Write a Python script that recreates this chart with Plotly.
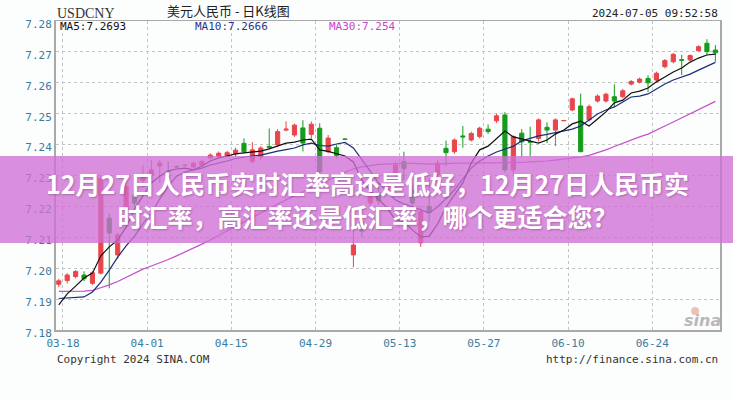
import plotly.graph_objects as go

# ---------------- data ----------------
tick_labels = ["03-18", "04-01", "04-15", "04-29", "05-13", "05-27", "06-10", "06-24"]
y_ticks = [7.18, 7.19, 7.20, 7.21, 7.22, 7.23, 7.24, 7.25, 7.26, 7.27, 7.28]

opens = [7.1948, 7.1960, 7.1973, 7.1978, 7.1951, 7.1984, 7.2162, 7.2043, 7.2188, 7.2237,
         7.2285, 7.2302, 7.2331, 7.2313, 7.2329, 7.2332, 7.2328, 7.2334, 7.2357, 7.2361,
         7.2363, 7.2370, 7.2404, 7.2345, 7.2360, 7.2394, 7.2399, 7.2447, 7.2431, 7.2454,
         7.2433, 7.2453, 7.2377, 7.2390, 7.2418, 7.2043, 7.2150, 7.2211, 7.2244, 7.2250,
         7.2302, 7.2345, 7.2253, 7.2082, 7.2200, 7.2302, 7.2388, 7.2377, 7.2428, 7.2415,
         7.2426, 7.2450, 7.2477, 7.2496, 7.2318, 7.2437, 7.2410, 7.2420, 7.2456, 7.2447,
         7.2477, 7.2512, 7.2525, 7.2480, 7.2541, 7.2541, 7.2555, 7.2555, 7.2596, 7.2602,
         7.2614, 7.2609, 7.2652, 7.2668, 7.2675, 7.2674, 7.2704, 7.2728, 7.2706]
highs = [7.1966, 7.1984, 7.1994, 7.1990, 7.1991, 7.2300, 7.2178, 7.2115, 7.2280, 7.2280,
         7.2334, 7.2350, 7.2350, 7.2345, 7.2333, 7.2336, 7.2345, 7.2350, 7.2372, 7.2378,
         7.2380, 7.2390, 7.2420, 7.2408, 7.2395, 7.2452, 7.2450, 7.2475, 7.2468, 7.2479,
         7.2475, 7.2469, 7.2431, 7.2400, 7.2420, 7.2140, 7.2200, 7.2250, 7.2275, 7.2290,
         7.2345, 7.2377, 7.2270, 7.2200, 7.2290, 7.2350, 7.2413, 7.2420, 7.2460, 7.2442,
         7.2458, 7.2465, 7.2500, 7.2505, 7.2430, 7.2450, 7.2458, 7.2485, 7.2472, 7.2485,
         7.2480, 7.2552, 7.2565, 7.2530, 7.2562, 7.2568, 7.2595, 7.2580, 7.2609, 7.2617,
         7.2624, 7.2636, 7.2677, 7.2697, 7.2690, 7.2692, 7.2721, 7.2741, 7.2722]
lows = [7.1939, 7.1951, 7.1967, 7.1958, 7.1946, 7.1980, 7.1935, 7.2030, 7.2172, 7.2199,
        7.2263, 7.2276, 7.2276, 7.2305, 7.2324, 7.2329, 7.2322, 7.2330, 7.2352, 7.2355,
        7.2358, 7.2360, 7.2372, 7.2339, 7.2350, 7.2385, 7.2393, 7.2443, 7.2425, 7.2378,
        7.2421, 7.2300, 7.2372, 7.2355, 7.2416, 7.2003, 7.2100, 7.2200, 7.2205, 7.2240,
        7.2295, 7.2285, 7.2200, 7.2069, 7.2150, 7.2290, 7.2330, 7.2370, 7.2390, 7.2410,
        7.2420, 7.2435, 7.2470, 7.2310, 7.2300, 7.2360, 7.2361, 7.2410, 7.2405, 7.2395,
        7.2476, 7.2508, 7.2377, 7.2475, 7.2536, 7.2536, 7.2520, 7.2550, 7.2591, 7.2598,
        7.2570, 7.2604, 7.2647, 7.2663, 7.2625, 7.2670, 7.2700, 7.2690, 7.2668]
closes = [7.1959, 7.1978, 7.1989, 7.1966, 7.1985, 7.2291, 7.2114, 7.2107, 7.2264, 7.2211,
          7.2302, 7.2318, 7.2340, 7.2312, 7.2328, 7.2333, 7.2340, 7.2345, 7.2366, 7.2372,
          7.2374, 7.2382, 7.2377, 7.2383, 7.2389, 7.2391, 7.2442, 7.2450, 7.2463, 7.2405,
          7.2466, 7.2312, 7.2421, 7.2365, 7.2417, 7.2075, 7.2120, 7.2231, 7.2218, 7.2270,
          7.2334, 7.2323, 7.2211, 7.2183, 7.2180, 7.2340, 7.2374, 7.2415, 7.2425, 7.2436,
          7.2453, 7.2442, 7.2493, 7.2318, 7.2426, 7.2409, 7.2408, 7.2480, 7.2447, 7.2480,
          7.2478, 7.2548, 7.2377, 7.2523, 7.2557, 7.2563, 7.2541, 7.2574, 7.2604, 7.2612,
          7.2600, 7.2631, 7.2672, 7.2692, 7.2673, 7.2688, 7.2717, 7.2701, 7.2697]

ma5 = [7.1881, 7.1917, 7.1942, 7.1968, 7.1984, 7.2040, 7.2069, 7.2091, 7.2133, 7.2192,
       7.2234, 7.2276, 7.2298, 7.2315, 7.2321, 7.2324, 7.2318, 7.2331, 7.2347, 7.2357,
       7.2363, 7.2370, 7.2373, 7.2376, 7.2379, 7.2386, 7.2395, 7.2405, 7.2408, 7.2415,
       7.2418, 7.2383, 7.2378, 7.2370, 7.2363, 7.2344, 7.2285, 7.2250, 7.2221, 7.2195,
       7.2156, 7.2150, 7.2124, 7.2101, 7.2104, 7.2143, 7.2198, 7.2237, 7.2276, 7.2340,
       7.2383, 7.2395, 7.2421, 7.2444, 7.2425, 7.2418, 7.2412, 7.2405, 7.2415, 7.2434,
       7.2447, 7.2467, 7.2476, 7.2460, 7.2483, 7.2506, 7.2535, 7.2544, 7.2567, 7.2573,
       7.2583, 7.2603, 7.2619, 7.2635, 7.2648, 7.2667, 7.2680, 7.2690, 7.2693]
ma10 = [7.1902, 7.1904, 7.1905, 7.1907, 7.1923, 7.1955, 7.1994, 7.2036, 7.2072, 7.2104,
        7.2143, 7.2179, 7.2224, 7.2266, 7.2298, 7.2311, 7.2318, 7.2324, 7.2334, 7.2340,
        7.2347, 7.2355, 7.2360, 7.2363, 7.2366, 7.2373, 7.2379, 7.2384, 7.2389, 7.2399,
        7.2405, 7.2397, 7.2395, 7.2402, 7.2407, 7.2389, 7.2350, 7.2311, 7.2276, 7.2247,
        7.2221, 7.2208, 7.2198, 7.2188, 7.2179, 7.2198, 7.2224, 7.2253, 7.2289, 7.2324,
        7.2347, 7.2363, 7.2376, 7.2386, 7.2395, 7.2412, 7.2421, 7.2428, 7.2433, 7.2438,
        7.2444, 7.2450, 7.2460, 7.2480, 7.2499, 7.2512, 7.2522, 7.2538, 7.2554, 7.2557,
        7.2564, 7.2580, 7.2596, 7.2609, 7.2619, 7.2628, 7.2641, 7.2654, 7.2666]
ma30 = [7.1925, 7.1925, 7.1925, 7.1926, 7.1928, 7.1936, 7.1946, 7.1957, 7.1970, 7.1984,
        7.1997, 7.2007, 7.2017, 7.2028, 7.2040, 7.2052, 7.2065, 7.2078, 7.2091, 7.2106,
        7.2120, 7.2135, 7.2150, 7.2164, 7.2179, 7.2193, 7.2208, 7.2221, 7.2234, 7.2247,
        7.2260, 7.2272, 7.2285, 7.2298, 7.2311, 7.2321, 7.2328, 7.2332, 7.2336, 7.2337,
        7.2339, 7.2339, 7.2339, 7.2337, 7.2337, 7.2337, 7.2339, 7.2340, 7.2340, 7.2340,
        7.2342, 7.2342, 7.2342, 7.2342, 7.2342, 7.2342, 7.2344, 7.2345, 7.2347, 7.2350,
        7.2353, 7.2357, 7.2360, 7.2365, 7.2373, 7.2383, 7.2394, 7.2405, 7.2415, 7.2425,
        7.2434, 7.2446, 7.2460, 7.2473, 7.2486, 7.2499, 7.2512, 7.2525, 7.2540]

title_text = "12月27日人民币实时汇率高还是低好，12月27日人民币实<br>时汇率，高汇率还是低汇率，哪个更适合您？"

# ---------------- figure ----------------
idx = list(range(len(closes)))
RED = "#e8464c"
GREEN = "#169c1c"
MONO = "DejaVu Sans Mono"
TEAL = "#3a7c9e"

fig = go.Figure()
fig.add_trace(go.Candlestick(
    x=idx, open=opens, high=highs, low=lows, close=closes,
    increasing=dict(fillcolor=RED, line=dict(color=RED, width=1)),
    decreasing=dict(fillcolor=GREEN, line=dict(color=GREEN, width=1)),
    whiskerwidth=0, showlegend=False, hoverinfo="skip"))
fig.add_trace(go.Scatter(x=idx, y=ma30, mode="lines", line=dict(color="#c64fcc", width=1.2),
                         showlegend=False, hoverinfo="skip"))
fig.add_trace(go.Scatter(x=idx, y=ma10, mode="lines", line=dict(color="#1d2c78", width=1.2),
                         showlegend=False, hoverinfo="skip"))
fig.add_trace(go.Scatter(x=idx, y=ma5, mode="lines", line=dict(color="#111111", width=1.2),
                         showlegend=False, hoverinfo="skip"))

tickvals = [10 * k + 0.5 for k in range(len(tick_labels))]

fig.update_layout(
    width=733, height=400, autosize=False,
    margin=dict(l=56, r=11, t=21, b=70),
    paper_bgcolor="#fcfdfd", plot_bgcolor="#fcfdfd",
    xaxis=dict(range=[-0.33, 78.55], tickvals=tickvals, ticktext=tick_labels,
               showgrid=True, gridcolor="#c4c4c4", griddash="dot", gridwidth=1,
               showline=True, linecolor="#a9a9a9", linewidth=1.5, mirror=True,
               zeroline=False, rangeslider=dict(visible=False), ticks="",
               ticklabelstandoff=2,
               tickfont=dict(family=MONO, size=11, color=TEAL), fixedrange=True),
    yaxis=dict(range=[7.18, 7.28], tickvals=y_ticks, tickformat=".2f",
               showgrid=True, gridcolor="#c4c4c4", griddash="dot", gridwidth=1,
               showline=True, linecolor="#a9a9a9", linewidth=2, mirror=True,
               zeroline=False, ticks="", ticklabelshift=3,
               tickfont=dict(family=MONO, size=11, color=TEAL), fixedrange=True),
    font=dict(family=MONO),
)

# purple banner across the picture
fig.add_shape(type="rect", xref="paper", yref="paper",
              x0=-0.1, x1=1.1, y0=(330 - 243) / 309, y1=(330 - 156) / 309,
              fillcolor="rgba(206,112,212,0.78)", line=dict(width=0), layer="above")
# sina logo eye
fig.add_shape(type="circle", xref="paper", yref="paper",
              x0=(693 - 56) / 666, x1=(701 - 56) / 666, y0=(330 - 315) / 309, y1=(330 - 307) / 309,
              fillcolor="rgba(222,120,95,0.45)", line=dict(width=0), layer="above")

ann = [
    dict(text="USDCNY", x=-0.002, y=(330 - 13) / 309, xanchor="left", yanchor="middle",
         font=dict(family="Liberation Serif", size=14, color="#333333")),
    dict(text="美元人民币 - 日K线图", x=(229 - 56) / 666, y=(330 - 10) / 309, xanchor="center", yanchor="middle",
         font=dict(family="Noto Sans CJK SC", size=13, color="#222222")),
    dict(text="2024-07-05 09:52:58", x=1.0, y=(330 - 13) / 309, xanchor="right", yanchor="middle",
         font=dict(family=MONO, size=11, color="#222222")),
    dict(text="MA5:7.2693", x=(58 - 56) / 666, y=(330 - 27) / 309, xanchor="left", yanchor="middle",
         font=dict(family=MONO, size=11, color="#111111")),
    dict(text="MA10:7.2666", x=(193 - 56) / 666, y=(330 - 27) / 309, xanchor="left", yanchor="middle",
         font=dict(family=MONO, size=11, color="#2a3590")),
    dict(text="MA30:7.254", x=(328 - 56) / 666, y=(330 - 27) / 309, xanchor="left", yanchor="middle",
         font=dict(family=MONO, size=11, color="#cc44cc")),
    dict(text="Copyright 2024 SINA.COM", x=-0.002, y=(330 - 359) / 309, xanchor="left", yanchor="middle",
         font=dict(family=MONO, size=11, color="#333333")),
    dict(text="http://finance.sina.com.cn", x=1.0, y=(330 - 359) / 309, xanchor="right", yanchor="middle",
         font=dict(family=MONO, size=11, color="#333333")),
    dict(text="<b><i>sina</i></b>", x=(704 - 56) / 666, y=(330 - 320) / 309, xanchor="center", yanchor="middle",
         font=dict(family="DejaVu Sans", size=16, color="#b9b9b9")),
    dict(text=title_text, x=(368 - 56) / 666, y=(330 - 199) / 309, xanchor="center", yanchor="middle",
         font=dict(family="Noto Sans CJK SC", size=25, color="#ffffff", weight="bold",
                   shadow="1px 1px 2px rgba(90,30,90,0.35)")),
]
for a in ann:
    a.setdefault("xref", "paper")
    a.setdefault("yref", "paper")
    a["showarrow"] = False
    fig.add_annotation(**a)

fig.write_html("out.html", config={"displayModeBar": False, "staticPlot": True},
               post_script="document.body.style.margin='0px';document.body.style.overflow='hidden';")
